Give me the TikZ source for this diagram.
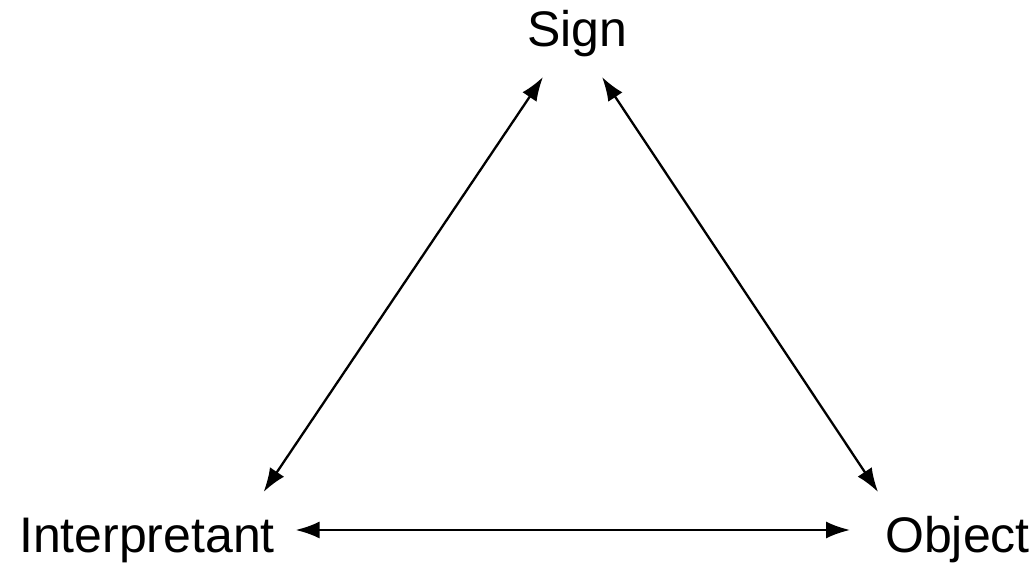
\documentclass[tikz,border=0pt]{standalone}
\usepackage{fontspec}
\setmainfont{Liberation Sans}
\usetikzlibrary{arrows.meta}

\begin{document}
\begin{tikzpicture}[x=1pt, y=1pt, <->, >={Latex[length=24pt, width=17pt]},
    every node/.style={
        inner sep=0pt,
        font=\fontsize{50}{60}\selectfont
    }]
    \useasboundingbox (0,0) rectangle (1034,564);

    % The three corners
    \node[anchor=base] (Sign) at (577.5,517) {Sign};
    \node[anchor=base] (Interpretant) at (147,11) {Interpretant};
    \node[anchor=base] (Object) at (957.5,11) {Object};

    % Relations
    \path[line width=2.3pt]
        ([shift={(-34.5,-30)}]Sign.base) edge ([shift={(-11.5,61)}]Interpretant.base east)
        ([shift={(24.5,-30)}]Sign.base) edge ([shift={(-7,61)}]Object.base west)
        ([shift={(20.5,23)}]Interpretant.base east) edge ([shift={(-35,23)}]Object.base west);
\end{tikzpicture}
\end{document}
